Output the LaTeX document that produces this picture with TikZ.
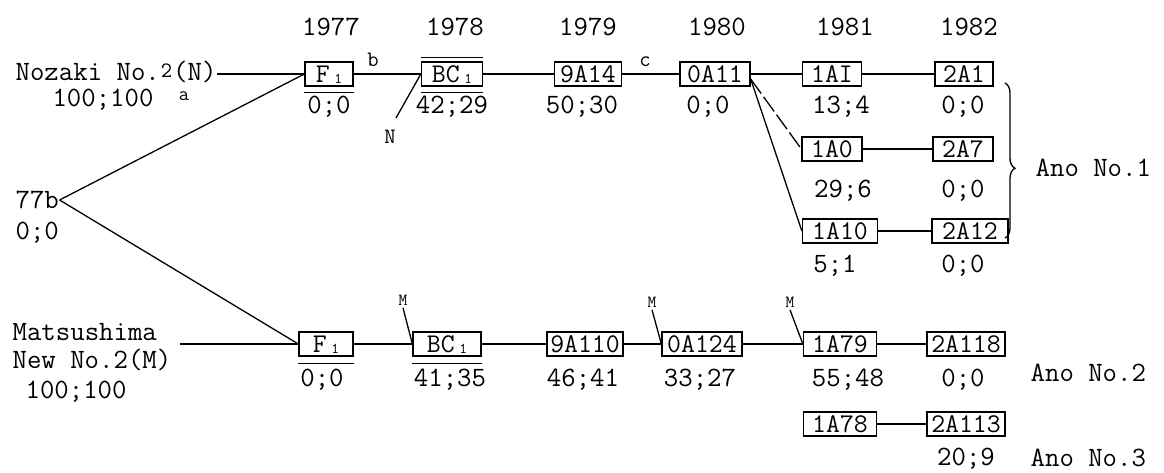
\documentclass[tikz,border=0pt]{standalone}
\usepackage{graphicx}
\usetikzlibrary{decorations.pathreplacing}
\newcommand\subo{\raisebox{-1pt}{\fontsize{15}{15}\selectfont 1}}
\begin{document}
\begin{tikzpicture}[x=1pt,y=-1pt,line width=1.3pt,
  every node/.style={font=\fontsize{28}{32}\selectfont\ttfamily,inner sep=0pt},
  bx/.style={draw,font=\fontsize{27}{30}\selectfont\ttfamily,minimum height=24pt,text height=17pt,text depth=0pt,inner xsep=3pt},
  tiny/.style={font=\fontsize{17}{20}\selectfont\ttfamily},
  mid/.style={font=\fontsize{22}{24}\selectfont\ttfamily},
  extra/.style={line width=1.3pt}]
\useasboundingbox (0,0) rectangle (1164,473);

% years
\node (y77) at (331,27) {1977};
\node (y78) at (455,27) {1978};
\node (y79) at (588,27) {1979};
\node (y80) at (717,27) {1980};
\node (y81) at (845,27) {1981};
\node (y82) at (969,27) {1982};

% Nozaki line
\node[anchor=west] (noz) at (15,72) {Nozaki No.\kern1pt{\fontsize{22}{22}\selectfont\raisebox{3pt}{2}}\kern1pt(N)};
\node (pn) at (103,100) {100;100};
\node[font=\fontsize{20}{20}\selectfont\ttfamily] (la) at (184,96) {a};

\node[bx,minimum width=48pt] (tF) at (329,74) {F\,\subo};
\node[bx,minimum width=61pt] (tB) at (452,74) {BC\,\subo};
\node[bx,minimum width=67pt] (t9) at (588,74) {9A14};
\node[bx,minimum width=70pt] (t0) at (715,74) {0A11};
\node[bx,minimum width=59pt] (t1) at (832,74) {1AI};
\node[bx,minimum width=58pt] (t2) at (964,74) {2A1};

\node (vt1) at (329,107) {0;0};
\node (vt2) at (452,107) {42;29};
\node (vt3) at (582,107) {50;30};
\node (vt4) at (708,107) {0;0};
\node (vt5) at (841,107) {13;4};
\node (vt6) at (963,107) {0;0};

\node[mid] (lb) at (373,60) {b};
\node[mid] (lc) at (645,62) {c};
\node[mid] (ln) at (390,137) {N};
\coordinate (nstart) at (396,118);

% second and third rows
\node[bx,minimum width=60pt] (r1) at (832,149) {1A0};
\node[bx,minimum width=60pt] (r2) at (963,149) {2A7};
\node (vr1) at (843,191) {29;6};
\node (vr2) at (963,191) {0;0};
\node[bx,minimum width=75pt] (s1) at (840,231) {1A10};
\node[bx,minimum width=76pt] (s2) at (970,231) {2A12};
\node (vs1) at (835,266) {5;1};
\node (vs2) at (963,266) {0;0};

\draw[decorate,decoration={brace,amplitude=10pt,aspect=0.55}] (1005,83) -- (1005,238);
\node[anchor=west] (ano1) at (1035,168) {Ano No.1};

% 77b
\node[anchor=west] (s77) at (15,200) {77b};
\node[anchor=west] (z77) at (15,233) {0;0};

% Matsushima line
\node[anchor=west] (mat1) at (12,332) {Matsushima};
\node[anchor=west] (mat2) at (12,360) {New No.2(M)};
\node[anchor=west] (mat3) at (25,392) {100;100};
\coordinate (mstart) at (180,344);

\node[bx,minimum width=54pt] (bF) at (326,344) {F\,\subo};
\node[bx,minimum width=68pt] (bB) at (447,344) {BC\,\subo};
\node[bx,minimum width=76pt] (b9) at (585,344) {9A110};
\node[bx,minimum width=80pt] (b0) at (702,344) {0A124};
\node[bx,minimum width=73pt] (b1) at (840,344) {1A79};
\node[bx,minimum width=78pt] (b2) at (966,344) {2A118};

\node (vb1) at (322,380) {0;0};
\node (vb2) at (450,380) {41;35};
\node (vb3) at (583,380) {46;41};
\node (vb4) at (700,380) {33;27};
\node (vb5) at (848,380) {55;48};
\node (vb6) at (963,380) {0;0};
\node[anchor=west] (ano2) at (1030,373) {Ano No.2};

\node[tiny] (m1) at (403,300) {M};
\node[tiny] (m2) at (652,302) {M};
\node[tiny] (m3) at (790,302) {M};

\node[bx,minimum width=73pt] (c1) at (840,424) {1A78};
\node[bx,minimum width=78pt] (c2) at (966,424) {2A113};
\node (vc2) at (966,459) {20;9};
\node[anchor=west] (ano3) at (1030,458) {Ano No.3};

% extra rules
\draw[extra] ([yshift=-6pt]tF.south west) -- ([yshift=-6pt]tF.south east);
\draw[extra] ([yshift=4pt]tB.north west) -- ([yshift=4pt]tB.north east);
\draw[extra] ([yshift=-6pt]tB.south west) -- ([yshift=-6pt]tB.south east);
\draw[extra] ([yshift=-7pt]bF.south west) -- ([yshift=-7pt]bF.south east);
\draw[extra] ([yshift=-7pt]bB.south west) -- ([yshift=-7pt]bB.south east);

% connectors
\draw (noz.east |- tF.west) -- (tF.west);
\draw (tF.east) -- (tB.west);
\draw (tB.east) -- (t9.west);
\draw (t9.east) -- (t0.west);
\draw (t0.east) -- (t1.west);
\draw (t1.east) -- (t2.west);
\draw[dash pattern=on 18pt off 4pt] ([yshift=-5pt]t0.east) -- (r1.west);
\draw ([yshift=-5pt]t0.east) -- (s1.west);
\draw (r1.east) -- (r2.west);
\draw (s1.east) -- (s2.west);
\draw (nstart) -- (tB.west);

\draw (s77.east) -- (tF.west);
\draw (s77.east) -- (bF.west);

\draw (mstart) -- (bF.west);
\draw (bF.east) -- (bB.west);
\draw (bB.east) -- (b9.west);
\draw (b9.east) -- (b0.west);
\draw (b0.east) -- (b1.west);
\draw (b1.east) -- (b2.west);
\draw (c1.east) -- (c2.west);
\draw ([yshift=-2pt]m1.south) -- (bB.west);
\draw ([yshift=-2pt]m2.south) -- (b0.west);
\draw ([yshift=-2pt]m3.south) -- (b1.west);
\end{tikzpicture}
\end{document}
